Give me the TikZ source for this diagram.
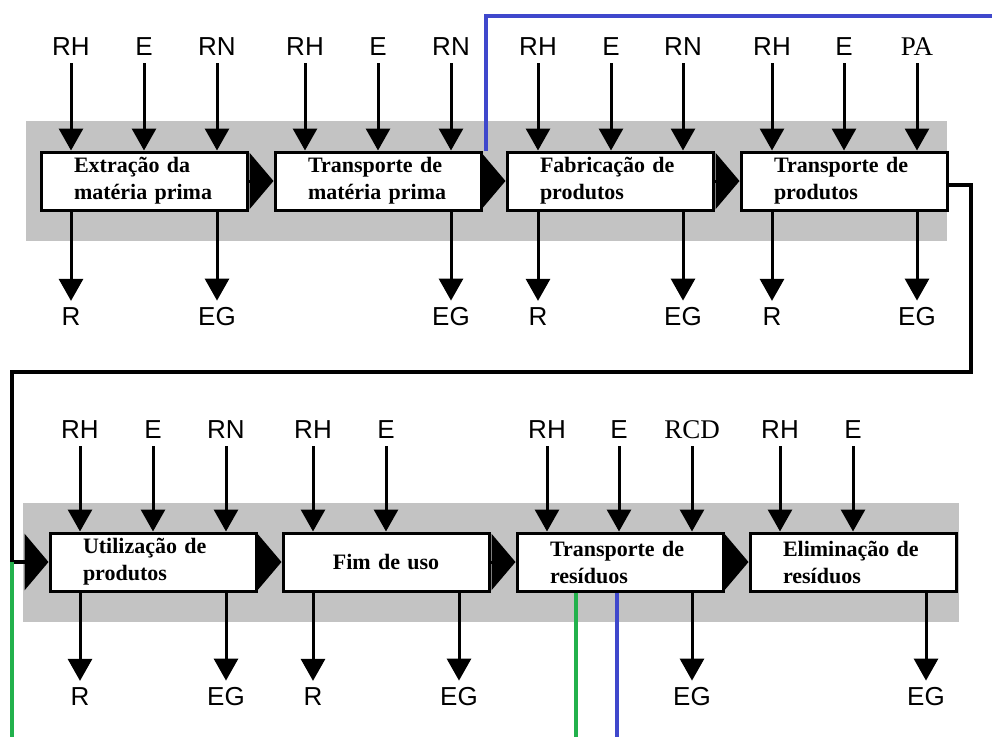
\documentclass[tikz,border=0pt]{standalone}
\usepackage{fontspec}
\setmainfont{Liberation Serif}
\setsansfont{Liberation Sans}
\usepackage{tikz}
\definecolor{gray300}{HTML}{C3C3C3}
\definecolor{blue600}{HTML}{3F48CC}
\definecolor{green600}{HTML}{22B14C}
\usetikzlibrary{arrows.meta}
\tikzstyle{etapa}=[draw=black, line width=3pt, fill=white, minimum width=206pt, minimum height=58pt, inner xsep=33pt, text width=140pt, align=left, font=\bfseries\fontsize{22}{27}\selectfont]
\tikzstyle{rotulo}=[font=\sffamily\fontsize{26}{26}\selectfont, inner sep=7pt]
\tikzstyle{rotuloserif}=[font=\fontsize{27}{27}\selectfont, inner sep=7pt]
\tikzstyle{entrada}=[line width=3pt, -{Triangle[length=22pt,width=24pt]}]
\tikzstyle{fluxo}=[line width=3pt, -{Triangle[length=24pt,width=56pt]}]
\tikzstyle{faixa}=[fill=gray300]

\begin{document}
\begin{tikzpicture}[x=1pt, y=-1pt]
			\useasboundingbox (0,0) rectangle (992,737);
			% faixas cinza
			\fill[faixa] (26,121) rectangle (947,241);
			\fill[faixa] (23,503) rectangle (959,622);
			% etapas
			\node[etapa] (b1) at (144,181) {Extração da\\matéria prima};
			\node[etapa] (b2) at (378,181) {Transporte de\\matéria prima};
			\node[etapa] (b3) at (610,181) {Fabricação de\\produtos};
			\node[etapa] (b4) at (844,181) {Transporte de\\produtos};
			\node[etapa] (b5) at (153,562) {Utilização de\\produtos};
			\node[etapa, align=center] (b6) at (386,562) {Fim de uso};
			\node[etapa] (b7) at (620,562) {Transporte de\\resíduos};
			\node[etapa] (b8) at (853,562) {Eliminação de\\resíduos};
			% entradas
			\node[rotulo] (rh1) at (71,47) {RH};
			\node[rotulo] (e1) at (144,47) {E};
			\node[rotulo] (rn1) at (217,47) {RN};
			\node[rotulo] (rh2) at (305,47) {RH};
			\node[rotulo] (e2) at (378,47) {E};
			\node[rotulo] (rn2) at (451,47) {RN};
			\node[rotulo] (rh3) at (538,47) {RH};
			\node[rotulo] (e3) at (611,47) {E};
			\node[rotulo] (rn3) at (683,47) {RN};
			\node[rotulo] (rh4) at (772,47) {RH};
			\node[rotulo] (e4) at (844,47) {E};
			\node[rotuloserif] (pa4) at (917,47) {PA};
			\node[rotulo] (rh5) at (80,430) {RH};
			\node[rotulo] (e5) at (153,430) {E};
			\node[rotulo] (rn5) at (226,430) {RN};
			\node[rotulo] (rh6) at (313,430) {RH};
			\node[rotulo] (e6) at (386,430) {E};
			\node[rotulo] (rh7) at (547,430) {RH};
			\node[rotulo] (e7) at (619,430) {E};
			\node[rotuloserif] (rcd7) at (692,430) {RCD};
			\node[rotulo] (rh8) at (780,430) {RH};
			\node[rotulo] (e8) at (853,430) {E};
			% saidas
			\node[rotulo] (r1) at (71,317) {R};
			\node[rotulo] (eg1) at (217,317) {EG};
			\node[rotulo] (eg2) at (451,317) {EG};
			\node[rotulo] (r3) at (538,317) {R};
			\node[rotulo] (eg3) at (683,317) {EG};
			\node[rotulo] (r4) at (772,317) {R};
			\node[rotulo] (eg4) at (917,317) {EG};
			\node[rotulo] (r5) at (80,697) {R};
			\node[rotulo] (eg5) at (226,697) {EG};
			\node[rotulo] (r6) at (313,697) {R};
			\node[rotulo] (eg6) at (459,697) {EG};
			\node[rotulo] (eg7) at (692,697) {EG};
			\node[rotulo] (eg8) at (926,697) {EG};
			\foreach \l/\b in {rh1/b1,e1/b1,rn1/b1,rh2/b2,e2/b2,rn2/b2,rh3/b3,e3/b3,rn3/b3,rh4/b4,e4/b4,pa4/b4,rh5/b5,e5/b5,rn5/b5,rh6/b6,e6/b6,rh7/b7,e7/b7,rcd7/b7,rh8/b8,e8/b8}
				\draw[entrada] (\l) -- (\l |- \b.north);
			\foreach \l/\b in {r1/b1,eg1/b1,eg2/b2,r3/b3,eg3/b3,r4/b4,eg4/b4,r5/b5,eg5/b5,r6/b6,eg6/b6,eg7/b7,eg8/b8}
				\draw[entrada] (\l |- \b.south) -- (\l);
			\foreach \a/\b in {b1/b2,b2/b3,b3/b4,b5/b6,b6/b7,b7/b8}
				\draw[fluxo] (\a) -- (\b);
			% ligacoes
			\coordinate (vR) at (971,372);
			\coordinate (vL) at (12,372);
			\coordinate (az) at (992,16);
			\coordinate (vd1) at (12,737);
			\coordinate (vd2) at (576,737);
			\coordinate (az2) at (617,737);
			\draw[fluxo, line width=4pt] ([yshift=-4pt]b4.east) -| (vR) -- (vL) |- (b5.west);
			\draw[blue600, line width=4pt] ([xshift=3pt]b2.north east) |- (az);
			\draw[green600, line width=4pt] (vd1 |- b5.west) -- (vd1);
			\draw[green600, line width=4pt] (vd2 |- b7.south) -- (vd2);
			\draw[blue600, line width=4pt] (az2 |- b7.south) -- (az2);
		\end{tikzpicture}
\end{document}
